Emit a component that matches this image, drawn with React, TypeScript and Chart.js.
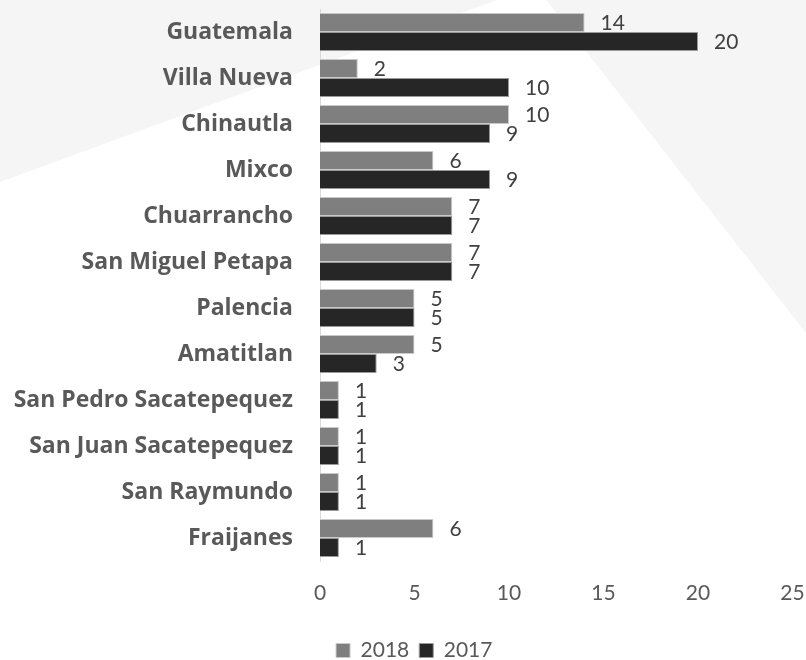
import React, { useEffect, useRef } from "react";
import { Chart, registerables } from "chart.js";

Chart.register(...registerables);

const categories = [
  "Guatemala",
  "Villa Nueva",
  "Chinautla",
  "Mixco",
  "Chuarrancho",
  "San Miguel Petapa",
  "Palencia",
  "Amatitlan",
  "San Pedro Sacatepequez",
  "San Juan Sacatepequez",
  "San Raymundo",
  "Fraijanes",
];
const values2018 = [14, 2, 10, 6, 7, 7, 5, 5, 1, 1, 1, 6];
const values2017 = [20, 10, 9, 9, 7, 7, 5, 3, 1, 1, 1, 1];
const seriesLabels = ["2018", "2017"];
const xTicks = [0, 5, 10, 15, 20, 25];

const NUM_FONT = "Lato, 'Open Sans', sans-serif";
const LABEL_FONT = "'Open Sans', Lato, sans-serif";

const dataLabelPlugin = {
  id: "barValueLabels",
  afterDatasetsDraw(chart: any) {
    const ctx = chart.ctx;
    ctx.save();
    ctx.font = `21px ${NUM_FONT}`;
    ctx.fillStyle = "#404040";
    ctx.textAlign = "left";
    ctx.textBaseline = "middle";
    chart.data.datasets.forEach((ds: any, di: number) => {
      const meta = chart.getDatasetMeta(di);
      meta.data.forEach((el: any, i: number) => {
        ctx.fillText(String(ds.data[i]), el.x + 16, el.y + 1);
      });
    });
    ctx.restore();
  },
};

// The legend in the reference sits a little right of the canvas centre.
const legendShiftPlugin = {
  id: "legendShift",
  afterLayout(chart: any) {
    const lg = chart.legend;
    if (lg) {
      lg.left += 18;
      lg.right += 18;
    }
  },
};

export default function App() {
  const ref = useRef<HTMLCanvasElement | null>(null);

  useEffect(() => {
    if (!ref.current) return;
    const chart = new Chart(ref.current, {
      type: "bar",
      data: {
        labels: categories,
        datasets: [
          {
            label: seriesLabels[0],
            data: values2018,
            backgroundColor: "#7f7f7f",
            borderColor: "#c9c9c9",
            borderWidth: 1,
            barPercentage: 1,
            categoryPercentage: 0.825,
          },
          {
            label: seriesLabels[1],
            data: values2017,
            backgroundColor: "#262626",
            borderColor: "#9a9a9a",
            borderWidth: 1,
            barPercentage: 1,
            categoryPercentage: 0.825,
          },
        ],
      },
      options: {
        indexAxis: "y",
        animation: false,
        responsive: false,
        maintainAspectRatio: false,
        layout: { padding: { top: 9, left: 0, right: 13.5, bottom: 0 } },
        scales: {
          x: {
            min: 0,
            max: 25,
            afterBuildTicks(scale: any) {
              scale.ticks = xTicks.map((v) => ({ value: v }));
            },
            afterFit(scale: any) {
              scale.height = 69;
            },
            grid: { display: false, drawTicks: true, tickLength: 20 },
            border: { display: false },
            ticks: {
              padding: 0,
              color: "#595959",
              font: { family: NUM_FONT, size: 21 },
              maxRotation: 0,
            },
          },
          y: {
            afterFit(scale: any) {
              scale.width = 320;
            },
            grid: { display: false, drawTicks: true, tickLength: 32 },
            border: { display: true, color: "#d9d9d9", width: 1 },
            ticks: {
              padding: -5,
              color: "#595959",
              font: { family: LABEL_FONT, size: 23, weight: "bold" },
              autoSkip: false,
            },
          },
        },
        plugins: {
          legend: {
            position: "bottom",
            labels: {
              boxWidth: 14,
              boxHeight: 14,
              padding: 10,
              color: "#595959",
              font: { family: NUM_FONT, size: 21 },
            },
          },
          tooltip: { enabled: false },
        },
      },
      plugins: [dataLabelPlugin, legendShiftPlugin],
    } as any);
    return () => chart.destroy();
  }, []);

  return (
    <div
      style={{
        position: "absolute",
        left: 0,
        top: 0,
        width: 806,
        height: 660,
        overflow: "hidden",
        background: "#ffffff",
      }}
    >
      <svg
        width={806}
        height={660}
        style={{ position: "absolute", left: 0, top: 0 }}
      >
        <rect x={0} y={0} width={806} height={660} fill="#f5f5f5" />
        <polygon points="535,-14 0,182 0,660 806,660 806,333" fill="#ffffff" />
      </svg>
      <canvas
        ref={ref}
        width={806}
        height={671}
        style={{ position: "absolute", left: 0, top: 0, width: 806, height: 671 }}
      />
    </div>
  );
}
